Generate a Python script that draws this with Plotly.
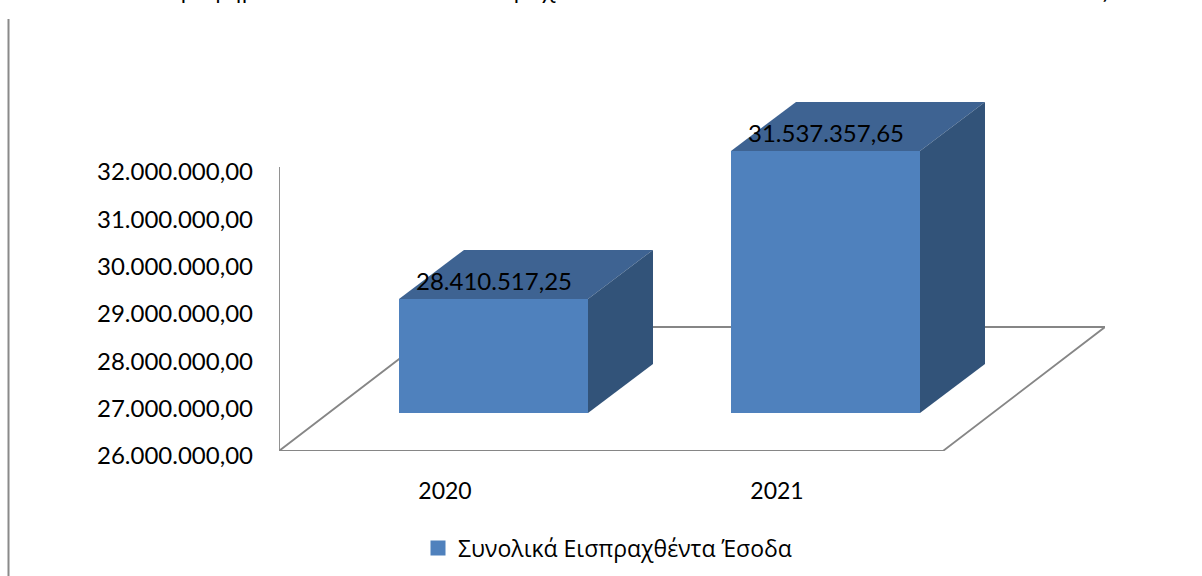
import plotly.graph_objects as go

# Data
categories = ["2020", "2021"]
values = [28410517.25, 31537357.65]
series_name = "Συνολικά Εισπραχθέντα Έσοδα"
tick_values = [26e6, 27e6, 28e6, 29e6, 30e6, 31e6, 32e6]
tick_labels = ["26.000.000,00", "27.000.000,00", "28.000.000,00", "29.000.000,00",
               "30.000.000,00", "31.000.000,00", "32.000.000,00"]
value_labels = ["28.410.517,25", "31.537.357,65"]
clipped_title = "Γραφήματα των συνολικά εισπραχθέντων εσόδων των ετών 2020 και 2021 ανά έτος"

W, H = 1202, 576
PX_X = 332.0      # px per category
PX_Y = 47.33 / 1e6  # px per unit
AX_MIN = 26e6
x_left, x_right, y_base, y_top = 279, 1105, 451, 90

x_idx = list(range(len(categories)))
X0 = -0.5
X1 = X0 + (x_right - x_left) / PX_X
Y1 = AX_MIN + (y_base - y_top) / PX_Y

# 3-D projection in axis units
floor_dx, floor_dy = 162 / PX_X, 124 / PX_Y
shift_x, base_y = 48.5 / PX_X, AX_MIN + 38 / PX_Y
bar_w = 189 / PX_X
depth_x, depth_y = 65 / PX_X, 49 / PX_Y

FRONT, TOP, SIDE, GREY = "#4F81BD", "#3E6392", "#325379", "#868686"
LATO = "Lato"

fig = go.Figure()
cx = [i + shift_x for i in x_idx]
bar_h = [v - AX_MIN for v in values]
fig.add_trace(go.Bar(x=cx, y=bar_h, base=base_y, width=bar_w, name=series_name,
                     marker=dict(color=FRONT, line=dict(width=0)),
                     showlegend=False, hoverinfo="skip"))
fig.add_trace(go.Scatter(x=[None], y=[None], mode="markers", name=series_name,
                         marker=dict(symbol="square", size=15, color=FRONT),
                         showlegend=True, hoverinfo="skip"))

for c, h in zip(cx, bar_h):
    a, b = c - bar_w / 2, c + bar_w / 2
    t = base_y + h
    fig.add_trace(go.Scatter(x=[a, b, b + depth_x, a + depth_x, a],
                             y=[t, t, t + depth_y, t + depth_y, t],
                             mode="lines", fill="toself", fillcolor=TOP,
                             line=dict(width=0), showlegend=False, hoverinfo="skip"))
    fig.add_trace(go.Scatter(x=[b, b, b + depth_x, b + depth_x, b],
                             y=[base_y, t, t + depth_y, base_y + depth_y, base_y],
                             mode="lines", fill="toself", fillcolor=SIDE,
                             line=dict(width=0), showlegend=False, hoverinfo="skip"))

fx0, fx1 = X0, X0 + len(categories)
floor_path = (f"M {fx0} {AX_MIN} L {fx1} {AX_MIN} L {fx1 + floor_dx} {AX_MIN + floor_dy} "
              f"L {fx0 + floor_dx} {AX_MIN + floor_dy} Z")
shapes = [
    dict(type="path", path=floor_path, xref="x", yref="y", layer="below",
         line=dict(color=GREY, width=1.8)),
    dict(type="line", xref="x", yref="y", x0=X0, x1=X0, y0=AX_MIN, y1=tick_values[-1],
         layer="below", line=dict(color=GREY, width=1.8)),
    dict(type="line", xref="paper", yref="paper", x0=8.5 / W, x1=8.5 / W, y0=0, y1=1 - 19 / H,
         line=dict(color="#8A8A8A", width=2)),
]

annotations = [
    dict(x=c, y=base_y + h, xref="x", yref="y", text=t, showarrow=False, yshift=18,
         xanchor="center", yanchor="middle", font=dict(family=LATO, size=24, color="black"))
    for c, h, t in zip(cx, bar_h, value_labels)
]
annotations.append(dict(x=637 / W, y=1, xref="paper", yref="paper", text=clipped_title,
                        showarrow=False, xanchor="center", yanchor="bottom", yshift=-6,
                        font=dict(family="Open Sans", size=24, color="black")))

fig.update_layout(
    width=W, height=H, autosize=False,
    margin=dict(l=0, r=0, t=0, b=0, pad=0, autoexpand=False),
    paper_bgcolor="white", plot_bgcolor="white",
    bargap=0, barmode="overlay",
    shapes=shapes, annotations=annotations,
    showlegend=True,
    legend=dict(x=418 / W, y=1 - 548 / H, xanchor="left", yanchor="middle",
                bgcolor="rgba(0,0,0,0)",
                font=dict(family="Open Sans", size=23, color="black")),
    xaxis=dict(domain=[x_left / W, x_right / W], range=[X0, X1], tickmode="array",
               tickvals=x_idx, ticktext=categories, showgrid=False, zeroline=False,
               showline=False, ticks="", ticklabelstandoff=24,
               tickfont=dict(family=LATO, size=23, color="black")),
    yaxis=dict(domain=[1 - y_base / H, 1 - y_top / H], range=[AX_MIN, Y1], tickmode="array",
               tickvals=tick_values, ticktext=tick_labels, showgrid=False, zeroline=False,
               showline=False, ticks="", ticklabelstandoff=25, ticklabelshift=5,
               tickfont=dict(family=LATO, size=24, color="black")),
)

fig.write_html("out.html", config={"displayModeBar": False},
               post_script="document.body.style.margin='0';")
